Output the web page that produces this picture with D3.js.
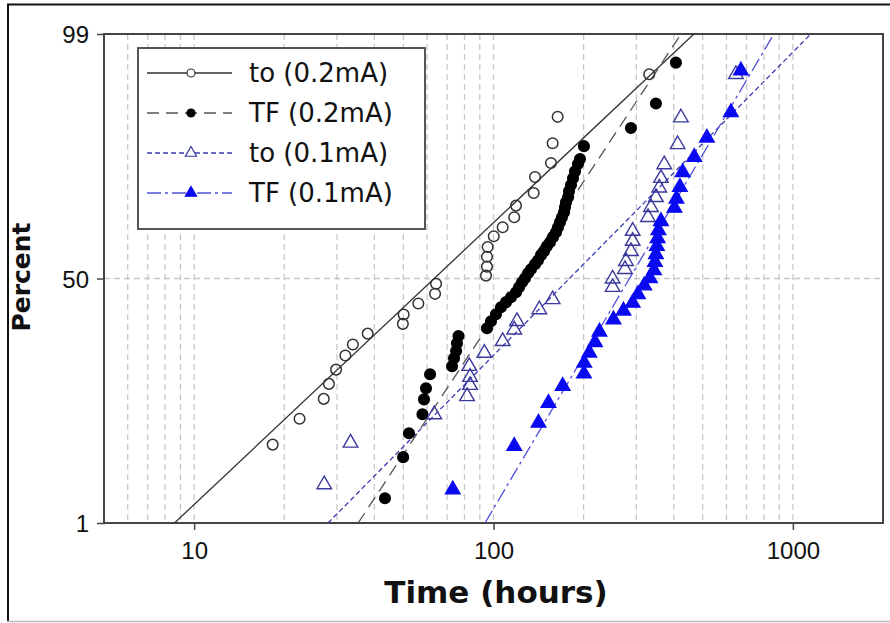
<!DOCTYPE html>
<html><head><meta charset="utf-8">
<script src="https://cdn.jsdelivr.net/npm/d3@7"></script>
<style>
html,body{margin:0;padding:0;background:#fff;}
svg{display:block;font-family:"DejaVu Sans",Verdana,sans-serif;}
</style></head>
<body><svg id="chart" width="890" height="623"></svg>
<script>
// ---------- data ----------
const xTickValues = [10, 100, 1000];
const xTickLabels = ["10", "100", "1000"];
const yTickValues = [1, 50, 99];
const yTickLabels = ["1", "50", "99"];
const gridX = [6,7,8,9,10,20,30,40,50,60,70,80,90,100,200,300,400,500,600,700,800,900,1000];
const gridY = [50];

const seriesNames = ["to (0.2mA)", "TF (0.2mA)", "to (0.1mA)", "TF (0.1mA)"];

const to02Time = [18.3,22.5,27.1,28.2,29.8,32.0,33.9,38.0,49.8,50.1,56.1,63.8,64.3,94.4,95.1,95.1,95.6,100.2,107.3,117.3,118.9,136.2,137.6,155.6,157.6,163.8,331.3];
const to02Pct  = [5.7,9.1,12.6,15.8,19.3,23.2,26.5,30.0,33.3,36.6,40.6,44.2,48.0,51.1,54.5,58.2,61.8,65.6,68.7,72.0,75.6,79.2,83.3,86.4,90.1,93.8,97.4];

const TF02Time = [43.4,49.9,52.2,57.9,58.6,59.5,61.4,72.7,73.8,75.0,75.5,76.4,95.1,98.1,101.9,105.9,110.1,114.4,118.9,121.7,124.5,127.4,130.4,133.4,137.6,140.8,144.1,147.5,150.9,154.4,158.0,161.7,164.2,166.7,169.3,172.0,173.3,174.6,177.4,178.7,181.5,184.3,187.2,191.5,194.5,200.5,287.8,348.8,406.7];
const TF02Pct  = [1.83,4.46,7.05,9.83,12.5,14.8,18.1,20.2,22.4,24.5,26.9,29.2,31.8,34.2,36.7,39.2,41.1,42.9,44.8,46.7,48.6,50.1,52.0,53.5,55.4,56.9,58.8,60.2,62.1,63.5,65.3,67.0,68.7,70.4,72.0,73.6,75.1,76.6,78.0,79.7,81.3,83.0,84.6,86.2,87.2,89.6,92.4,95.2,98.0];

const to01Time = [27.2,33.3,63.4,81.6,83.5,83.5,83.0,93.2,107.3,117.3,119.8,142.2,157.6,250.0,250.0,274.9,277.0,287.8,291.6,291.6,328.1,335.7,348.8,357.8,362.5,371.8,412.1,422.7,645.2];
const to01Pct  = [2.50,5.89,9.78,13.1,15.5,17.4,20.2,23.9,27.5,31.3,34.2,38.4,42.1,46.7,49.9,53.5,56.5,60.2,63.9,67.4,72.0,75.1,78.0,80.6,83.0,86.1,89.9,93.7,97.4];

const TF01Time = [73.1,117.3,141.4,152.6,170.2,200.5,200.9,208.9,218.3,225.9,251.6,271.7,291.6,303.7,318.8,333.1,343.5,346.1,348.8,351.5,353.4,355.6,362.5,402.1,408.3,419.5,428.3,468.3,516.4,620.9,670.6];
const TF01Pct  = [2.23,5.53,8.47,11.8,15.3,18.25,21.1,24.0,27.2,30.6,34.8,37.9,40.8,44.0,47.3,50.1,53.1,56.2,59.1,62.1,64.9,67.7,70.7,74.9,77.6,80.8,84.4,87.6,90.95,94.3,97.6];

// fitted lines: [time, percent] end points
const to02Fit = [[8.6, 1], [467, 99]];
const TF02Fit = [[35.3, 1], [423, 99]];
const to01Fit = [[28.0, 1], [1148, 99]];
const TF01Fit = [[93.7, 1], [864, 99]];

// ---------- helpers ----------
function probit(p) { // inverse standard normal CDF (Acklam)
  const a=[-3.969683028665376e+01,2.209460984245205e+02,-2.759285104469687e+02,1.383577518672690e+02,-3.066479806614716e+01,2.506628277459239e+00];
  const b=[-5.447609879822406e+01,1.615858368580409e+02,-1.556989798598866e+02,6.680131188771972e+01,-1.328068155288572e+01];
  const c=[-7.784894002430293e-03,-3.223964580411365e-01,-2.400758277161838e+00,-2.549732539343734e+00,4.374664141464968e+00,2.938163982698783e+00];
  const d=[7.784695709041462e-03,3.224671290700398e-01,2.445134137142996e+00,3.754408661907416e+00];
  const pl=0.02425, ph=1-pl; let q,r;
  if (p<pl){q=Math.sqrt(-2*Math.log(p));return (((((c[0]*q+c[1])*q+c[2])*q+c[3])*q+c[4])*q+c[5])/((((d[0]*q+d[1])*q+d[2])*q+d[3])*q+1);}
  if (p<=ph){q=p-0.5;r=q*q;return (((((a[0]*r+a[1])*r+a[2])*r+a[3])*r+a[4])*r+a[5])*q/(((((b[0]*r+b[1])*r+b[2])*r+b[3])*r+b[4])*r+1);}
  q=Math.sqrt(-2*Math.log(1-p));return -(((((c[0]*q+c[1])*q+c[2])*q+c[3])*q+c[4])*q+c[5])/((((d[0]*q+d[1])*q+d[2])*q+d[3])*q+1);
}

// ---------- layout ----------
const svg = d3.select("#chart");
const L = 104, R = 883, T = 34, B = 523;
const x = d3.scaleLog().domain([5, 2000]).range([L, R]);
const z = d3.scaleLinear().domain([probit(0.01), probit(0.99)]).range([B, T]);
const y = p => z(probit(p / 100));

// outer picture frame
svg.append("line").attr("x1",7).attr("x2",890).attr("y1",4.5).attr("y2",4.5).attr("stroke","#111").attr("stroke-width",2);
svg.append("line").attr("x1",8).attr("x2",8).attr("y1",4).attr("y2",622).attr("stroke","#111").attr("stroke-width",2);
svg.append("line").attr("x1",7).attr("x2",890).attr("y1",621.5).attr("y2",621.5).attr("stroke","#bbb").attr("stroke-width",1.5);

// grid
const grid = svg.append("g");
grid.selectAll("line.gx").data(gridX).join("line")
  .attr("x1", d => x(d)).attr("x2", d => x(d)).attr("y1", T).attr("y2", B)
  .attr("stroke", "#c8c8c8").attr("stroke-width", 1.3).attr("stroke-dasharray", "6,4");
grid.selectAll("line.gy").data(gridY).join("line")
  .attr("x1", L).attr("x2", R).attr("y1", d => y(d)).attr("y2", d => y(d))
  .attr("stroke", "#c8c8c8").attr("stroke-width", 1.3).attr("stroke-dasharray", "6,4");

// axes
const xAxis = d3.axisBottom(x).tickValues(xTickValues).tickFormat((d,i)=>xTickLabels[i]).tickSize(7).tickSizeOuter(0);
const gx = svg.append("g").attr("transform", `translate(0,${B})`).call(xAxis);
gx.select(".domain").remove();
gx.selectAll(".tick line").attr("stroke","#444").attr("stroke-width",1.5);
gx.selectAll(".tick text").attr("font-size",24).attr("fill","#111").attr("dy","0").attr("y",36);

const yAxis = d3.axisLeft(z).tickValues(yTickValues.map(v=>probit(v/100))).tickFormat((d,i)=>yTickLabels[i]).tickSize(8).tickSizeOuter(0);
const gy = svg.append("g").attr("transform", `translate(${L+1},0)`).call(yAxis);
gy.select(".domain").remove();
gy.selectAll(".tick line").attr("stroke","#444").attr("stroke-width",1.5);
gy.selectAll(".tick text").attr("font-size",24).attr("fill","#111").attr("x",-16).attr("dy","0.36em");

// plot frame
svg.append("rect").attr("x",L).attr("y",T).attr("width",R-L).attr("height",B-T)
  .attr("fill","none").attr("stroke","#444").attr("stroke-width",2);

// axis titles
svg.append("text").attr("x",496).attr("y",603).attr("text-anchor","middle")
  .attr("font-size",31).attr("font-weight","bold").attr("fill","#111").text("Time (hours)");
svg.append("text").attr("transform","translate(30,277) rotate(-90)").attr("text-anchor","middle")
  .attr("font-size",25).attr("font-weight","bold").attr("fill","#111").text("Percent");

// series definitions
const styles = [
  {time: to02Time, pct: to02Pct, fit: to02Fit, line:"#333", dash:null, mark:"circle", fill:"none", stroke:"#333"},
  {time: TF02Time, pct: TF02Pct, fit: TF02Fit, line:"#555", dash:"12,7", mark:"circle", fill:"#000", stroke:"#000"},
  {time: to01Time, pct: to01Pct, fit: to01Fit, line:"#3c3cb0", dash:"5,3", mark:"tri", fill:"none", stroke:"#3a3a9c"},
  {time: TF01Time, pct: TF01Pct, fit: TF01Fit, line:"#5050dc", dash:"14,4,3,4", mark:"tri", fill:"#0a0af0", stroke:"#0a0af0"}
];

svg.append("clipPath").attr("id","plotclip").append("rect")
  .attr("x",L).attr("y",T).attr("width",R-L).attr("height",B-T);

const lineGen = d3.line().x(d => x(d[0])).y(d => y(d[1]));
const plot = svg.append("g").attr("clip-path","url(#plotclip)");
styles.forEach(s => {
  plot.append("path").attr("d", lineGen(s.fit)).attr("fill","none")
    .attr("stroke", s.line).attr("stroke-width", 1.3)
    .attr("stroke-dasharray", s.dash);
});
const triPath = d3.symbol().type(d3.symbolTriangle).size(92)();
styles.forEach(s => {
  const pts = s.time.map((t,i)=>[t, s.pct[i]]);
  if (s.mark === "circle") {
    plot.append("g").selectAll("circle").data(pts).join("circle")
      .attr("cx", d => x(d[0])).attr("cy", d => y(d[1])).attr("r", 5.3)
      .attr("fill", s.fill).attr("stroke", s.stroke).attr("stroke-width", 1.5);
  } else {
    plot.append("g").selectAll("path").data(pts).join("path")
      .attr("transform", d => `translate(${x(d[0])},${y(d[1])})`).attr("d", triPath)
      .attr("fill", s.fill).attr("stroke", s.stroke).attr("stroke-width", 1.4);
  }
});

// legend
const lg = svg.append("g");
lg.append("rect").attr("x",138).attr("y",48).attr("width",287).attr("height",181)
  .attr("fill","#fff").attr("stroke","#444").attr("stroke-width",1.8);
const rowY = d3.scalePoint().domain(seriesNames).range([73, 193]);
const legendTri = d3.symbol().type(d3.symbolTriangle).size(55)();
styles.forEach((s,i) => {
  const yy = rowY(seriesNames[i]);
  lg.append("line").attr("x1",147).attr("x2",232).attr("y1",yy).attr("y2",yy)
    .attr("stroke", s.line).attr("stroke-width",1.4).attr("stroke-dasharray", s.dash);
  if (s.mark === "circle") {
    lg.append("circle").attr("cx",191).attr("cy",yy).attr("r",4)
      .attr("fill", s.fill === "none" ? "#fff" : s.fill).attr("stroke", s.stroke).attr("stroke-width",1.2);
  } else {
    lg.append("path").attr("transform",`translate(191,${yy})`).attr("d",legendTri)
      .attr("fill", s.fill === "none" ? "#fff" : s.fill).attr("stroke", s.stroke).attr("stroke-width",1.2);
  }
  lg.append("text").attr("x",249).attr("y",yy).attr("dy","0.36em")
    .attr("font-size",26).attr("fill","#111").text(seriesNames[i]);
});
</script></body></html>
